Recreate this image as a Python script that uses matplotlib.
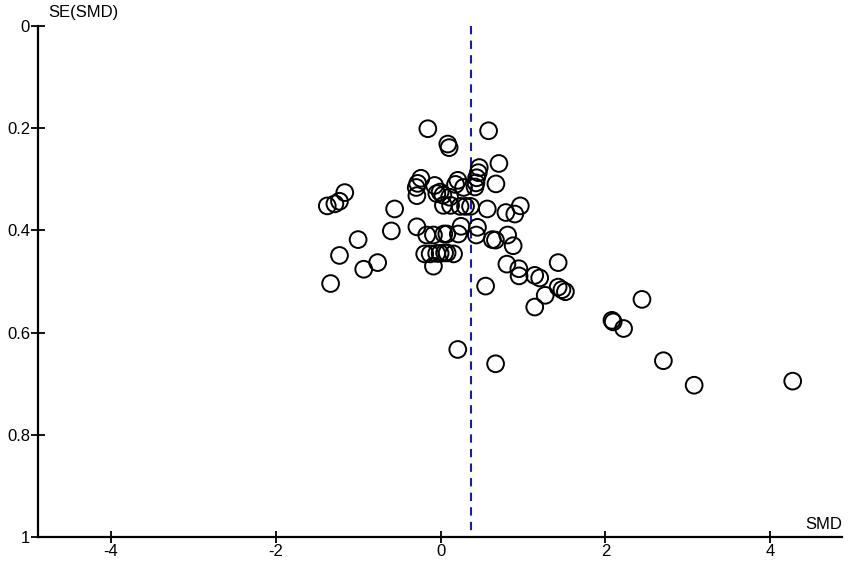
import matplotlib
matplotlib.use("Agg")
import matplotlib.pyplot as plt
import numpy as np

plt.rcParams['font.family'] = ['Liberation Sans', 'DejaVu Sans']

# Funnel plot data: standardized mean difference and its standard error
smd = [-0.155, 0.582, 0.087, 0.103, 0.707,
       0.469, 0.457, 0.437, 0.429, 0.417, 0.671,
       -0.239, -0.278, -0.296, -0.288, -0.073, 0.209, 0.181, 0.278,
       -0.046, -0.006, 0.027, 0.109, 0.034, 0.121, 0.236, 0.302, 0.363,
       0.566, -0.558, 0.792, 0.900, 0.967,
       -1.163, -1.227, -1.283, -1.375,
       -0.598, -0.288, -0.169, -0.087, 0.039, 0.075, 0.215, 0.248, 0.433, 0.447,
       0.628, 0.665, 0.813, 0.880,
       -1.001, -1.227, -0.764, -0.933, -1.335,
       -0.193, -0.127, -0.048, -0.006, 0.048, 0.079, 0.157, -0.087,
       0.546, 0.804, 0.949, 0.952, 1.142, 1.202, 1.426, 1.426, 1.472, 1.514,
       1.269, 1.142, 2.443, 2.079, 2.094, 2.220,
       0.208, 0.667, 2.703, 3.076, 4.272]
se = [0.201, 0.205, 0.231, 0.238, 0.269,
      0.277, 0.287, 0.297, 0.307, 0.315, 0.309,
      0.298, 0.308, 0.316, 0.332, 0.312, 0.302, 0.310, 0.316,
      0.328, 0.325, 0.331, 0.335, 0.351, 0.351, 0.353, 0.353, 0.353,
      0.358, 0.358, 0.365, 0.368, 0.352,
      0.326, 0.343, 0.348, 0.352,
      0.401, 0.393, 0.409, 0.409, 0.407, 0.407, 0.407, 0.392, 0.409, 0.394,
      0.418, 0.419, 0.409, 0.430,
      0.418, 0.449, 0.463, 0.476, 0.504,
      0.446, 0.446, 0.445, 0.445, 0.444, 0.444, 0.446, 0.470,
      0.509, 0.466, 0.475, 0.489, 0.488, 0.493, 0.463, 0.511, 0.516, 0.520,
      0.527, 0.550, 0.535, 0.576, 0.579, 0.592,
      0.633, 0.661, 0.655, 0.703, 0.695]
pooled = 0.37

x_ticks = [-4, -2, 0, 2, 4]
y_ticks = [0, 0.2, 0.4, 0.6, 0.8, 1]
y_tick_labels = ['0', '0.2', '0.4', '0.6', '0.8', '1']

fig = plt.figure(figsize=(8.5, 5.7), dpi=100)
ax = fig.add_axes([38/850, 33/570, 804/850, 511/570])

ax.scatter(smd, se, s=145, facecolors='none', edgecolors='black', linewidths=1.4, zorder=3)
ax.plot([pooled, pooled], [0, 1], color='#1c1ca0', linestyle=(0, (4, 3)), linewidth=1.5, zorder=2)

ax.set_xlim(-4.885, 4.87)
ax.set_ylim(1, 0)
ax.set_xticks(x_ticks)
ax.set_xticklabels([str(t) for t in x_ticks])
ax.set_yticks(y_ticks)
ax.set_yticklabels(y_tick_labels)

for s in ['top', 'right']:
    ax.spines[s].set_visible(False)
for s in ['left', 'bottom']:
    ax.spines[s].set_linewidth(1.6)
ax.tick_params(axis='x', direction='inout', length=8, width=1.3, labelsize=12, pad=1)
ax.tick_params(axis='y', direction='inout', length=9.5, width=1.3, labelsize=12, pad=1)

ax.text(0.013, 1.012, 'SE(SMD)', transform=ax.transAxes, fontsize=12, ha='left', va='bottom')
ax.text(1.0, 0.01, 'SMD', transform=ax.transAxes, fontsize=12, ha='right', va='bottom')

fig.savefig('out.png', dpi=100)
